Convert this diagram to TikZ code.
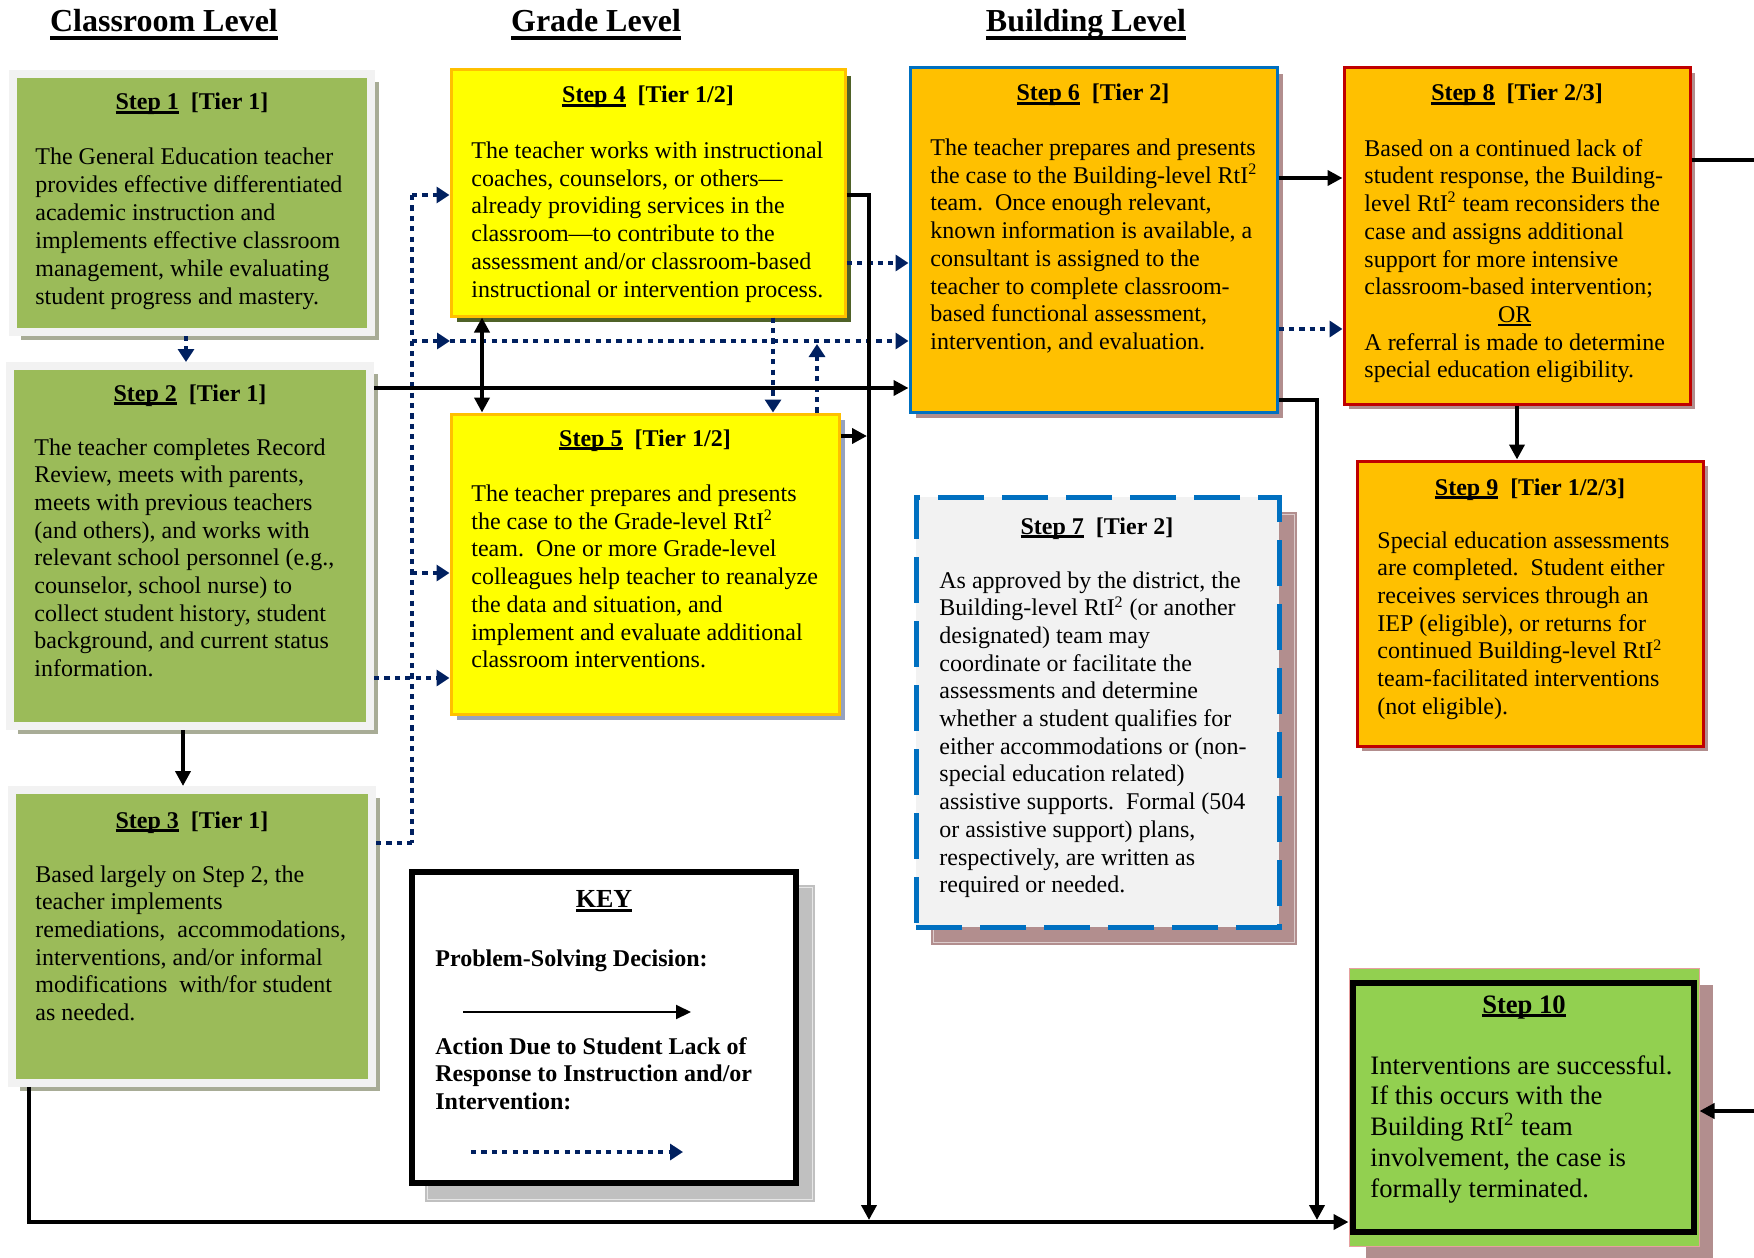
\documentclass[tikz,border=0pt]{standalone}
\usepackage{fontspec}
\setmainfont{Liberation Serif}
\usetikzlibrary{arrows.meta,shadows,fit}

\definecolor{stepgreen}{RGB}{155,187,89}
\definecolor{framegray}{RGB}{242,242,242}
\definecolor{greenshadow}{RGB}{168,172,150}
\definecolor{stepyellow}{RGB}{255,255,0}
\definecolor{yellowedge}{RGB}{255,192,0}
\definecolor{oliveshadow}{RGB}{79,98,40}
\definecolor{blueshadow}{RGB}{150,162,190}
\definecolor{steporange}{RGB}{255,192,0}
\definecolor{edgeblue}{RGB}{0,112,192}
\definecolor{edgered}{RGB}{192,0,0}
\definecolor{roseshadow}{RGB}{178,142,142}
\definecolor{lightfill}{RGB}{242,242,242}
\definecolor{finalgreen}{RGB}{146,208,80}
\definecolor{pinkedge}{RGB}{230,160,160}
\definecolor{navy}{RGB}{0,32,96}
\definecolor{keyshadow}{RGB}{192,192,192}

% underline with a chosen depth (#1) and rule thickness (#2)
\newcommand\ulbar[3]{\setbox0\hbox{#3}\rlap{\rule[-#1]{\wd0}{#2}}\box0}
\newcommand\rti{RtI\textsuperscript{2}}
\newcommand\steptitle[2]{\ulbar{1.8pt}{1.3pt}{Step #1}\ \ [Tier #2]}

\begin{document}
\begin{tikzpicture}[x=0.5pt,y=-0.5pt,
  every node/.style={inner sep=0pt},
  header/.style={anchor=base, font=\fontsize{16}{19}\selectfont\bfseries},
  title/.style={anchor=base, font=\fontsize{12}{14}\selectfont\bfseries},
  body/.style={anchor=north west, align=left, font=\fontsize{12}{13.85}\selectfont},
  keytext/.style={anchor=north west, align=left, font=\fontsize{12}{13.75}\selectfont\bfseries},
  greenbox/.style={fill=stepgreen, draw=framegray, line width=4pt,
    drop shadow={shadow xshift=4pt, shadow yshift=-4pt, fill=greenshadow, opacity=1}},
  yellowbox/.style={fill=stepyellow, draw=yellowedge, line width=1.5pt,
    drop shadow={shadow xshift=3pt, shadow yshift=-3pt, fill=#1, opacity=1}},
  bluebox/.style={fill=steporange, draw=edgeblue, line width=1.5pt,
    drop shadow={shadow xshift=3pt, shadow yshift=-3pt, fill=roseshadow, opacity=1}},
  redbox/.style={fill=steporange, draw=edgered, line width=1.5pt,
    drop shadow={shadow xshift=2.5pt, shadow yshift=-2.5pt, fill=roseshadow, opacity=1}},
  dashbox/.style={fill=lightfill, draw=edgeblue, line width=2.5pt, dash pattern=on 23pt off 9pt},
  solidline/.style={line width=2pt},
  conn/.style={line width=2pt, -{Triangle[length=7.5pt,width=7.5pt]}},
  dotline/.style={navy, line width=2pt, dash pattern=on 2.6pt off 2.6pt},
  dotarrow/.style={dotline, -{Triangle[length=6.5pt,width=8pt]}}
]
\fill[white] (0,0) rectangle (1754,1257);
\useasboundingbox (0,0) rectangle (1754,1257);

% column headings
\node[header] (hclass) at (164,32) {\ulbar{4pt}{2pt}{Classroom Level}};
\node[header] (hgrade) at (596,32) {\ulbar{4pt}{2pt}{Grade Level}};
\node[header] (hbuild) at (1086,32) {\ulbar{4pt}{2pt}{Building Level}};

% free-standing shadows
\fill[roseshadow] (931,512) rectangle (1297,945);
\draw[white!55!roseshadow, line width=0.5pt] (933,514) rectangle (1294,942);
\fill[keyshadow] (425,885) rectangle (815,1202);
\draw[white!60!keyshadow, line width=0.5pt] (427,887) rectangle (812,1199);
\fill[roseshadow] (1366,985) rectangle (1713,1262);

% step boxes
\node[greenbox, fit={(13,74) (371,332)}] (s1) {};
\node[greenbox, fit={(10,366) (370,726)}] (s2) {};
\node[greenbox, fit={(12,790) (372,1083)}] (s3) {};
\node[yellowbox=oliveshadow, fit={(451,70) (845,316)}] (s4) {};
\node[yellowbox=blueshadow, fit={(451,414) (839,714)}] (s5) {};
\node[bluebox, fit={(910,68) (1277,412)}] (s6) {};
\node[dashbox, fit={(916,497) (1279,927)}] (s7) {};
\node[redbox, fit={(1344,68) (1690,404)}] (s8) {};
\node[redbox, fit={(1357,461) (1703,746)}] (s9) {};
\node[fill=finalgreen, draw=pinkedge, line width=0.5pt, fit={(1349,968) (1699,1246)}] (s10) {};
\draw[line width=3pt] (1353,983) rectangle (1694,1232);
\node[fill=white, draw=black, line width=3pt, fit={(412,872) (796,1183)}] (key) {};

% step titles
\node[title] (s1t) at (192,110) {\steptitle{1}{1}};
\node[title] (s2t) at (190,401) {\steptitle{2}{1}};
\node[title] (s3t) at (192,828) {\steptitle{3}{1}};
\node[title] (s4t) at (648,103) {\steptitle{4}{1/2}};
\node[title] (s5t) at (645,446) {\steptitle{5}{1/2}};
\node[title] (s6t) at (1093,101) {\steptitle{6}{2}};
\node[title] (s7t) at (1097,534) {\steptitle{7}{2}};
\node[title] (s8t) at (1517,101) {\steptitle{8}{2/3}};
\node[title] (s9t) at (1530,495) {\steptitle{9}{1/2/3}};
\node[title, font=\fontsize{13.3}{15}\selectfont\bfseries] (s10t) at (1524,1013) {\ulbar{2pt}{1.4pt}{Step 10}};

% step texts
\node[body, font=\fontsize{12}{14}\selectfont] (s1b) at (35,147) {The General Education teacher\\
provides effective differentiated\\
academic instruction and\\
implements effective classroom\\
management, while evaluating\\
student progress and mastery.};
\node[body] (s2b) at (34,438) {The teacher completes Record\\
Review, meets with parents,\\
meets with previous teachers\\
(and others), and works with\\
relevant school personnel (e.g.,\\
counselor, school nurse) to\\
collect student history, student\\
background, and current status\\
information.};
\node[body] (s3b) at (35,865) {Based largely on Step 2, the\\
teacher implements\\
remediations,\ \ accommodations,\\
interventions, and/or informal\\
modifications\ \ with/for student\\
as needed.};
\node[body] (s4b) at (471,141.5) {The teacher works with instructional\\
coaches, counselors, or others---\\
already providing services in the\\
classroom---to contribute to the\\
assessment and/or classroom-based\\
instructional or intervention process.};
\node[body] (s5b) at (471,484.5) {The teacher prepares and presents\\
the case to the Grade-level \rti\\
team.\ \ One or more Grade-level\\
colleagues help teacher to reanalyze\\
the data and situation, and\\
implement and evaluate additional\\
classroom interventions.};
\node[body] (s6b) at (930,138.5) {The teacher prepares and presents\\
the case to the Building-level \rti\\
team.\ \ Once enough relevant,\\
known information is available, a\\
consultant is assigned to the\\
teacher to complete classroom-\\
based functional assessment,\\
intervention, and evaluation.};
\node[body] (s7b) at (939,571) {As approved by the district, the\\
Building-level \rti{} (or another\\
designated) team may\\
coordinate or facilitate the\\
assessments and determine\\
whether a student qualifies for\\
either accommodations or (non-\\
special education related)\\
assistive supports.\ \ Formal (504\\
or assistive support) plans,\\
respectively, are written as\\
required or needed.};
\node[anchor=north west, font=\fontsize{12}{13.85}\selectfont] (s8b) at (1364,136.5) {%
\begin{tabular}{@{}l@{}}
Based on a continued lack of\\
student response, the Building-\\
level \rti{} team reconsiders the\\
case and assigns additional\\
support for more intensive\\
classroom-based intervention;\\
\multicolumn{1}{@{}c@{}}{\ulbar{1.6pt}{0.8pt}{OR}}\\
A referral is made to determine\\
special education eligibility.
\end{tabular}};
\node[body] (s9b) at (1377,531) {Special education assessments\\
are completed.\ \ Student either\\
receives services through an\\
IEP (eligible), or returns for\\
continued Building-level \rti\\
team-facilitated interventions\\
(not eligible).};
\node[body, font=\fontsize{13.3}{15.4}\selectfont] (s10b) at (1370,1055) {Interventions are successful.\\
If this occurs with the\\
Building \rti{} team\\
involvement, the case is\\
formally terminated.};

% key
\node[title, font=\fontsize{13}{15}\selectfont\bfseries] (keyt) at (604,907) {\ulbar{2.6pt}{1.6pt}{KEY}};
\node[anchor=base west, font=\fontsize{12}{14}\selectfont\bfseries] (keyp) at (435,966) {Problem-Solving Decision:};
\node[keytext] (keya) at (435,1037) {Action Due to Student Lack of\\
Response to Instruction and/or\\
Intervention:};
\coordinate (ks1) at (463,1012);
\coordinate (ks2) at (691,1012);
\coordinate (kd1) at (471,1152);
\coordinate (kd2) at (683,1152);
\draw[line width=1pt, -{Triangle[length=7.5pt,width=7pt]}] (ks1) -- (ks2);
\draw[dotarrow] (kd1) -- (kd2);

% junction points of the connectors
\coordinate (vt) at (412,195);
\coordinate (vb) at (412,843);
\coordinate (hm) at (450,341);
\coordinate (up5) at (817,344);
\coordinate (r4) at (869,195);
\coordinate (r4b) at (869,1220);
\coordinate (r6) at (1317,400);
\coordinate (r6b) at (1317,1220);
\coordinate (bl) at (29,1222);
\coordinate (e8) at (1754,160);
\coordinate (e10) at (1754,1111);

% dotted connectors: action due to lack of response
\draw[dotarrow] ([xshift=-3pt]s1.south) -- ([xshift=-2pt]s2.north);
\draw[dotline] (vt) -- (vb);
\draw[dotline] (s3.east |- vb) -- (vb);
\draw[dotarrow] (vt) -- (s4.west |- vt);
\draw[dotarrow] (vt |- hm) -- (hm);
\draw[dotarrow] (hm) -- (s6.west |- hm);
\draw[dotarrow] (vt |- 0,573) -- (s5.west |- 0,573);
\draw[dotarrow] (s2.east |- 0,678) -- (s5.west |- 0,678);
\draw[dotarrow] (s4.south -| 773,0) -- (s5.north -| 773,0);
\draw[dotarrow] (s5.north -| up5) -- (up5);
\draw[dotarrow] (s4.east |- 0,263) -- (s6.west |- 0,263);
\draw[dotarrow] (s6.east |- 0,329) -- (s8.west |- 0,329);

% solid connectors: problem-solving decisions
\draw[conn] ([xshift=-3.5pt]s2.south) -- ([xshift=-4.5pt]s3.north);
\draw[conn] (s2.east |- 0,388) -- (s6.west |- 0,388);
\draw[line width=2pt, {Triangle[length=7.5pt,width=7.5pt]}-{Triangle[length=7.5pt,width=7.5pt]}] (s4.south -| 482,0) -- (s5.north -| 482,0);
\draw[conn] (s4.east |- r4) -- (r4) -- (r4b);
\draw[conn] (s5.east |- 0,436) -- ([xshift=-1pt]r4 |- 0,436);
\draw[conn] (s6.east |- 0,178) -- (s8.west |- 0,178);
\draw[conn] (s6.east |- r6) -- (r6) -- (r6b);
\draw[conn] (s8.south -| 1517,0) -- (s9.north -| 1517,0);
\draw[solidline] (s8.east |- e8) -- (e8);
\draw[conn] (e10) -- (s10.east |- e10);
\draw[conn] (s3.south -| bl) -- (bl) -- (s10.west |- bl);
\end{tikzpicture}
\end{document}
